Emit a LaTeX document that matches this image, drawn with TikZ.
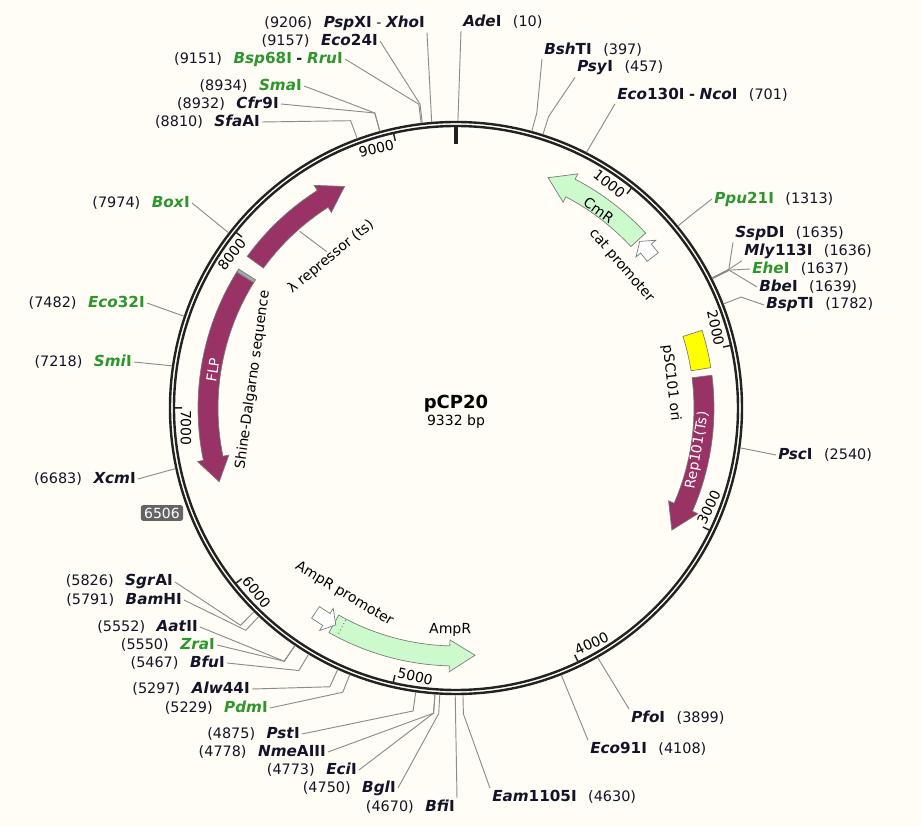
\documentclass[tikz,border=0pt]{standalone}
\usepackage{fontspec}
\setmainfont{DejaVu Sans}
\definecolor{paper}{RGB}{255,253,246}
\definecolor{ringcol}{RGB}{34,34,34}
\definecolor{cutgray}{RGB}{140,140,140}
\definecolor{featgray}{RGB}{120,120,120}
\definecolor{enzgreen}{RGB}{45,150,45}
\definecolor{numcol}{RGB}{20,20,40}
\definecolor{featpurple}{RGB}{153,51,102}
\definecolor{ltgreen}{RGB}{204,250,204}
\definecolor{oriyellow}{RGB}{255,255,0}
\definecolor{badge}{RGB}{100,100,100}
\newcommand{\enz}[2]{{\fontsize{11.4}{12}\selectfont\textbf{\textit{#1}#2}}}
\newcommand{\genz}[2]{\textcolor{enzgreen}{\enz{#1}{#2}}}
\newcommand{\gap}{\hspace{.8em}}
\begin{document}
\begin{tikzpicture}[x=0.75pt,y=0.75pt,
    lbl/.style={font=\fontsize{10.8}{12}\selectfont,inner sep=1.5pt,text=numcol},
    enzL/.style={lbl,anchor=east},
    enzR/.style={lbl,anchor=west},
    cut/.style={draw=cutgray,line width=0.7pt},
    feat/.style={draw=featgray,line width=0.5pt},
    featlbl/.style={font=\fontsize{10.5}{12}\selectfont,inner sep=0pt},
    ticklbl/.style={font=\fontsize{10.5}{12}\selectfont,inner sep=1.5pt},
    tick/.style={draw=ringcol,line width=1.1pt}]
  \useasboundingbox[fill=paper] (-456,-419) rectangle (465,408);

  % backbone
  \draw[ringcol,line width=1.8pt] (0,0) circle[radius=286];
  \draw[ringcol,line width=1.8pt] (0,0) circle[radius=282];
  \draw[ringcol,line width=2.3pt] (90:282) -- (90:264);

  % ticks
  \draw[tick] (51.42:281) -- (51.42:274);
  \draw[tick] (12.85:281) -- (12.85:274);
  \draw[tick] (-25.73:281) -- (-25.73:274);
  \draw[tick] (-64.31:281) -- (-64.31:274);
  \draw[tick] (-102.88:281) -- (-102.88:274);
  \draw[tick] (-141.46:281) -- (-141.46:274);
  \draw[tick] (-180.04:281) -- (-180.04:274);
  \draw[tick] (141.38:281) -- (141.38:274);
  \draw[tick] (102.81:281) -- (102.81:274);
  \node[ticklbl,anchor=east,rotate=-38.58] (t1) at (51.42:271) {1000};
  \node[ticklbl,anchor=east,rotate=-77.15] (t2) at (12.85:271) {2000};
  \node[ticklbl,anchor=west,rotate=64.27] (t3) at (-25.73:271) {3000};
  \node[ticklbl,anchor=west,rotate=25.69] (t4) at (-64.31:271) {4000};
  \node[ticklbl,anchor=west,rotate=-12.88] (t5) at (-102.88:271) {5000};
  \node[ticklbl,anchor=west,rotate=-51.46] (t6) at (-141.46:271) {6000};
  \node[ticklbl,anchor=west,rotate=-90.04] (t7) at (-180.04:270) {7000};
  \node[ticklbl,anchor=east,rotate=51.38] (t8) at (141.38:271) {8000};
  \node[ticklbl,anchor=east,rotate=12.81] (t9) at (102.81:271) {9000};

  % features
  \filldraw[feat,fill=ltgreen] (42.7:258) arc[start angle=42.7,end angle=62.5,radius=258]
    -- (62.5:264) -- (68.2:248) -- (62.5:232) -- (62.5:238)
    arc[start angle=62.5,end angle=42.7,radius=238] -- cycle;
  \filldraw[feat,fill=white] (37.5:255) arc[start angle=37.5,end angle=40,radius=255]
    -- (40:261) -- (42.2:248) -- (40:235) -- (40:241)
    arc[start angle=40,end angle=37.5,radius=241] -- cycle;
  \filldraw[feat,fill=oriyellow] (9:238) arc[start angle=9,end angle=17.5,radius=238]
    -- (17.5:258) arc[start angle=17.5,end angle=9,radius=258] -- cycle;
  \filldraw[feat,fill=featpurple] (7.3:258) arc[start angle=7.3,end angle=-23.6,radius=258]
    -- (-23.6:264) -- (-29.5:248) -- (-23.6:232) -- (-23.6:238)
    arc[start angle=-23.6,end angle=7.3,radius=238] -- cycle;
  \filldraw[feat,fill=ltgreen] (-119.5:258) arc[start angle=-119.5,end angle=-91.5,radius=258]
    -- (-91.5:264) -- (-85.6:248) -- (-91.5:232) -- (-91.5:238)
    arc[start angle=-91.5,end angle=-119.5,radius=238] -- cycle;
  \draw[featgray,dotted,line width=0.7pt] (-117.5:239) -- (-117.5:257);
  \filldraw[feat,fill=white] (-124.5:255) arc[start angle=-124.5,end angle=-121.5,radius=255]
    -- (-121.5:261) -- (-119:248) -- (-121.5:235) -- (-121.5:241)
    arc[start angle=-121.5,end angle=-124.5,radius=241] -- cycle;
  \filldraw[feat,fill=featpurple] (148.2:258) arc[start angle=148.2,end angle=191.7,radius=258]
    -- (191.7:264) -- (197.3:248) -- (191.7:232) -- (191.7:238)
    arc[start angle=191.7,end angle=148.2,radius=238] -- cycle;
  \filldraw[feat,fill=gray!70] (147.4:258) arc[start angle=147.4,end angle=148.2,radius=258]
    -- (148.2:238) arc[start angle=148.2,end angle=147.4,radius=238] -- cycle;
  \filldraw[feat,fill=featpurple] (144:258) arc[start angle=144,end angle=122.5,radius=258]
    -- (122.5:264) -- (116.7:248) -- (122.5:232) -- (122.5:238)
    arc[start angle=122.5,end angle=144,radius=238] -- cycle;

  % feature labels
  \node[featlbl,rotate=-35.8] (cmrlbl) at (54.2:244) {CmR};
  \node[featlbl,rotate=-49.3] (catlbl) at (40.7:218) {cat promoter};
  \node[featlbl,rotate=-83.4] (orilbl) at (6.6:216.5) {pSC101 ori};
  \node[featlbl,rotate=80.1,text=white] (replbl) at (-9.9:245) {Rep101(Ts)};
  \node[featlbl,rotate=-31] (ampplbl) at (-121:217) {AmpR promoter};
  \node[featlbl,rotate=-1.5] (amplbl) at (-91.5:222) {AmpR};
  \node[featlbl,rotate=81.1,text=white] (flplbl) at (171.1:246) {FLP};
  \node[featlbl,rotate=82.1] (sdlbl) at (172.1:205) {Shine-Dalgarno sequence};
  \node[featlbl,rotate=39.6] (lamlbl) at (129.6:196) {λ repressor (ts)};
  \coordinate (lamtip) at (131.5:236);
  \draw[cut] (lamtip) -- (lamlbl.north);

  % title
  \node[font=\bfseries\fontsize{13.5}{16}\selectfont] (title) at (0,4) {pCP20};
  \node[font=\fontsize{10.5}{12}\selectfont] (size) at (0,-14) {9332 bp};

  % cut sites on the ring
  \coordinate (r10) at ({90-10/25.9222}:287);
  \coordinate (r397) at ({90-397/25.9222}:287);
  \coordinate (e397) at ({90-397/25.9222}:306);
  \coordinate (r457) at ({90-457/25.9222}:287);
  \coordinate (e457) at ({90-457/25.9222}:306);
  \coordinate (r701) at ({90-701/25.9222}:287);
  \coordinate (r1313) at ({90-1313/25.9222}:287);
  \coordinate (e1313) at ({90-1313/25.9222}:306);
  \coordinate (r1635) at ({90-1635/25.9222}:287);
  \coordinate (e1635) at ({90-1635/25.9222}:306);
  \coordinate (r1639) at ({90-1639/25.9222}:287);
  \coordinate (e1639) at ({90-1639/25.9222}:306);
  \coordinate (r1782) at ({90-1782/25.9222}:287);
  \coordinate (e1782) at ({90-1782/25.9222}:306);
  \coordinate (r2540) at ({90-2540/25.9222}:287);
  \coordinate (r3899) at ({90-3899/25.9222}:287);
  \coordinate (r4108) at ({90-4108/25.9222}:287);
  \coordinate (r4630) at ({90-4630/25.9222}:287);
  \coordinate (e4630) at ({90-4630/25.9222}:306);
  \coordinate (r4670) at ({90-4670/25.9222}:287);
  \coordinate (r4750) at ({90-4750/25.9222}:287);
  \coordinate (e4750) at ({90-4750/25.9222}:306);
  \coordinate (r4775) at ({90-4775/25.9222}:287);
  \coordinate (e4775) at ({90-4775/25.9222}:306);
  \coordinate (r4875) at ({90-4875/25.9222}:287);
  \coordinate (e4875) at ({90-4875/25.9222}:306);
  \coordinate (r5229) at ({90-5229/25.9222}:287);
  \coordinate (e5229) at ({90-5229/25.9222}:306);
  \coordinate (r5297) at ({90-5297/25.9222}:287);
  \coordinate (e5297) at ({90-5297/25.9222}:306);
  \coordinate (r5467) at ({90-5467/25.9222}:287);
  \coordinate (e5467) at ({90-5467/25.9222}:306);
  \coordinate (r5551) at ({90-5551/25.9222}:287);
  \coordinate (e5551) at ({90-5551/25.9222}:306);
  \coordinate (r5791) at ({90-5791/25.9222}:287);
  \coordinate (e5791) at ({90-5791/25.9222}:306);
  \coordinate (r5826) at ({90-5826/25.9222}:287);
  \coordinate (e5826) at ({90-5826/25.9222}:306);
  \coordinate (r6683) at ({90-6683/25.9222}:287);
  \coordinate (r7218) at ({90-7218/25.9222}:287);
  \coordinate (r7482) at ({90-7482/25.9222}:287);
  \coordinate (r7974) at ({90-7974/25.9222}:287);
  \coordinate (r8810) at ({90-8810/25.9222}:287);
  \coordinate (e8810) at ({90-8810/25.9222}:306);
  \coordinate (r8933) at ({90-8933/25.9222}:287);
  \coordinate (e8933) at ({90-8933/25.9222}:306);
  \coordinate (r9151) at ({90-9151/25.9222}:287);
  \coordinate (e9151) at ({90-9151/25.9222}:306);
  \coordinate (r9157) at ({90-9157/25.9222}:287);
  \coordinate (e9157) at ({90-9157/25.9222}:306);
  \coordinate (r9206) at ({90-9206/25.9222}:287);

  % enzyme labels, left side
  \node[enzL] (pspxi) at (-29,385) {(9206)\gap\enz{Psp}{XI} - \enz{Xho}{I}};
  \node[enzL] (eco24) at (-76,367) {(9157)\gap\enz{Eco}{24I}};
  \node[enzL] (bsp68) at (-111,349) {(9151)\gap\genz{Bsp}{68I} \textbf{-} \genz{Rru}{I}};
  \node[enzL] (smai) at (-152,322) {(8934)\gap\genz{Sma}{I}};
  \node[enzL] (cfr9) at (-175,304) {(8932)\gap\enz{Cfr}{9I}};
  \node[enzL] (sfaai) at (-194,286) {(8810)\gap\enz{Sfa}{AI}};
  \node[enzL] (boxi) at (-264,205) {(7974)\gap\genz{Box}{I}};
  \node[enzL] (eco32) at (-309,105) {(7482)\gap\genz{Eco}{32I}};
  \node[enzL] (smii) at (-322,46) {(7218)\gap\genz{Smi}{I}};
  \node[enzL] (xcmi) at (-318,-71) {(6683)\gap\enz{Xcm}{I}};
  \node[enzL] (sgrai) at (-281,-174) {(5826)\gap\enz{Sgr}{AI}};
  \node[enzL] (bamhi) at (-272,-192) {(5791)\gap\enz{Bam}{HI}};
  \node[enzL] (aatii) at (-256,-219) {(5552)\gap\enz{Aat}{II}};
  \node[enzL] (zrai) at (-239,-237) {(5550)\gap\genz{Zra}{I}};
  \node[enzL] (bfui) at (-229,-255) {(5467)\gap\enz{Bfu}{I}};
  \node[enzL] (alw44) at (-204,-281) {(5297)\gap\enz{Alw}{44I}};
  \node[enzL] (pdmi) at (-186,-300) {(5229)\gap\genz{Pdm}{I}};
  \node[enzL] (psti) at (-154,-326) {(4875)\gap\enz{Pst}{I}};
  \node[enzL] (nmea) at (-128,-344) {(4778)\gap\enz{Nme}{AIII}};
  \node[enzL] (ecii) at (-97,-362) {(4773)\gap\enz{Eci}{I}};
  \node[enzL] (bgli) at (-58,-380) {(4750)\gap\enz{Bgl}{I}};
  \node[enzL] (bfii) at (1,-399) {(4670)\gap\enz{Bfi}{I}};

  % enzyme labels, right side
  \node[enzR] (adei) at (5,386) {\enz{Ade}{I}\gap(10)};
  \node[enzR] (bshti) at (86,358) {\enz{Bsh}{TI}\gap(397)};
  \node[enzR] (psyi) at (119,340) {\enz{Psy}{I}\gap(457)};
  \node[enzR] (ncoi) at (159,313) {\enz{Eco}{130I} \textbf{-} \enz{Nco}{I}\gap(701)};
  \node[enzR] (ppu21) at (256,209) {\genz{Ppu}{21I}\gap(1313)};
  \node[enzR] (sspdi) at (277,175) {\enz{Ssp}{DI}\gap(1635)};
  \node[enzR] (mly113) at (286,157) {\enz{Mly}{113I}\gap(1636)};
  \node[enzR] (ehei) at (294,139) {\genz{Ehe}{I}\gap(1637)};
  \node[enzR] (bbei) at (301,121) {\enz{Bbe}{I}\gap(1639)};
  \node[enzR] (bspti) at (308,103) {\enz{Bsp}{TI}\gap(1782)};
  \node[enzR] (psci) at (320,-47) {\enz{Psc}{I}\gap(2540)};
  \node[enzR] (pfoi) at (173,-310) {\enz{Pfo}{I}\gap(3899)};
  \node[enzR] (eco91) at (132,-341) {\enz{Eco}{91I}\gap(4108)};
  \node[enzR] (eam) at (34,-389) {\enz{Eam}{1105I}\gap(4630)};

  % connectors
  \draw[cut] (r9206) -- (pspxi.south east);
  \draw[cut] (r9157) -- (e9157) -- (eco24.east);
  \draw[cut] (r9151) -- (e9151) -- (bsp68.east);
  \draw[cut] (r8933) -- (e8933) -- (smai.east);
  \draw[cut] (r8933) -- (e8933) -- (cfr9.east);
  \draw[cut] (r8810) -- (e8810) -- (sfaai.east);
  \draw[cut] (r7974) -- (boxi.east);
  \draw[cut] (r7482) -- (eco32.east);
  \draw[cut] (r7218) -- (smii.east);
  \draw[cut] (r6683) -- (xcmi.east);
  \draw[cut] (r5826) -- (e5826) -- (sgrai.east);
  \draw[cut] (r5791) -- (e5791) -- (bamhi.east);
  \draw[cut] (r5551) -- (e5551) -- (aatii.east);
  \draw[cut] (r5551) -- (e5551) -- (zrai.east);
  \draw[cut] (r5467) -- (e5467) -- (bfui.east);
  \draw[cut] (r5297) -- (e5297) -- (alw44.east);
  \draw[cut] (r5229) -- (e5229) -- (pdmi.east);
  \draw[cut] (r4875) -- (e4875) -- (psti.east);
  \draw[cut] (r4775) -- (e4775) -- (nmea.east);
  \draw[cut] (r4775) -- (e4775) -- (ecii.east);
  \draw[cut] (r4750) -- (e4750) -- (bgli.east);
  \draw[cut] (r4670) -- (bfii.north east);
  \draw[cut] (r10) -- (adei.south west);
  \draw[cut] (r397) -- (e397) -- (bshti.south west);
  \draw[cut] (r457) -- (e457) -- (psyi.south west);
  \draw[cut] (r701) -- (ncoi.south west);
  \draw[cut] (r1313) -- (e1313) -- (ppu21.west);
  \draw[cut] (r1635) -- (e1635) -- (sspdi.south west);
  \draw[cut] (r1635) -- (e1635) -- (mly113.south west);
  \draw[cut] (r1639) -- (e1639) -- (ehei.west);
  \draw[cut] (r1639) -- (e1639) -- (bbei.west);
  \draw[cut] (r1782) -- (e1782) -- (bspti.west);
  \draw[cut] (r2540) -- (psci.west);
  \draw[cut] (r3899) -- (pfoi.north west);
  \draw[cut] (r4108) -- (eco91.north west);
  \draw[cut] (r4630) -- (e4630) -- (eam.north west);

  % position badge
  \node[fill=badge,text=white,rounded corners=2pt,inner xsep=2.5pt,inner ysep=2pt,
    font=\fontsize{10.5}{12}\selectfont] (pos) at (-294,-105) {6506};
\end{tikzpicture}
\end{document}
